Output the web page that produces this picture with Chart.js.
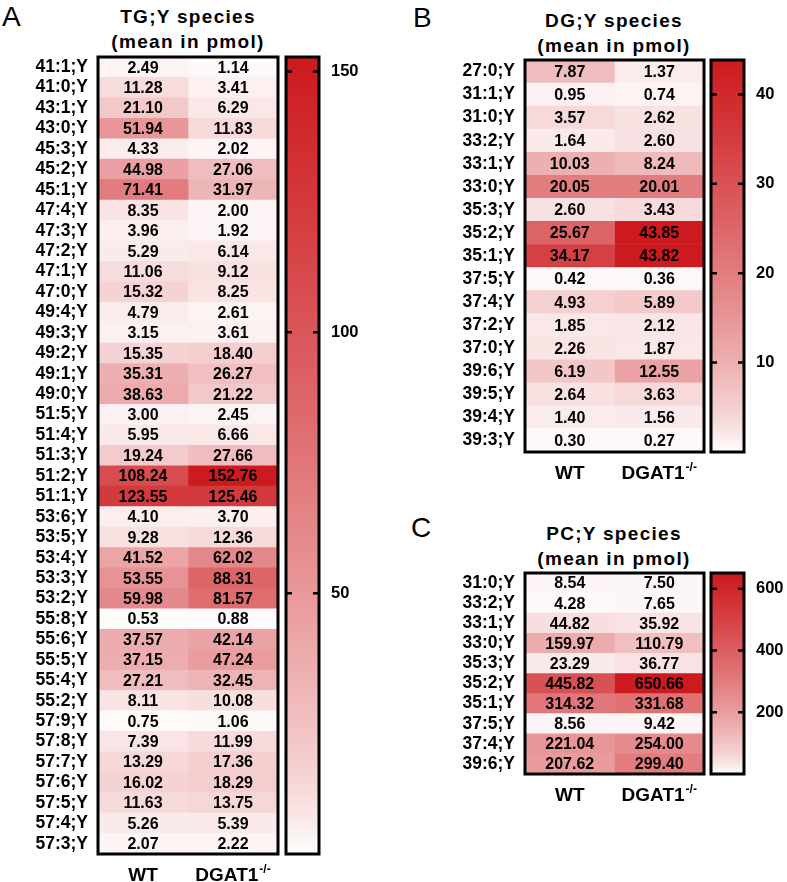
<!DOCTYPE html>
<html>
<head>
<meta charset="utf-8">
<script src="https://cdn.jsdelivr.net/npm/chart.js@4.4.1/dist/chart.umd.min.js"></script>
<style>
body{margin:0;background:#fff;width:787px;height:882px;position:relative;overflow:hidden;font-family:Arial,"Liberation Sans",sans-serif}
canvas{position:absolute}
.lettre{position:absolute;font-size:28px;line-height:28px;color:#000}
.titre{position:absolute;width:260px;text-align:center;font-weight:bold;font-size:19px;letter-spacing:1.3px;line-height:25px;color:#000}
</style>
</head>
<body>
<div class="lettre" style="left:2px;top:3px">A</div>
<div class="titre" style="left:58px;top:4px">TG;Y species<br>(mean in pmol)</div>
<div class="lettre" style="left:413px;top:4px">B</div>
<div class="titre" style="left:484px;top:8px">DG;Y species<br>(mean in pmol)</div>
<div class="lettre" style="left:411px;top:514px">C</div>
<div class="titre" style="left:484px;top:521px">PC;Y species<br>(mean in pmol)</div>

<canvas id="hA" width="292" height="835" style="left:0px;top:47px"></canvas>
<canvas id="cA" width="100" height="835" style="left:280px;top:47px"></canvas>
<canvas id="hB" width="318" height="432" style="left:400px;top:50px"></canvas>
<canvas id="cB" width="82" height="432" style="left:705px;top:50px"></canvas>
<canvas id="hC" width="318" height="245" style="left:400px;top:563px"></canvas>
<canvas id="cC" width="82" height="245" style="left:705px;top:563px"></canvas>

<script>
// TG;Y
const tgEspeces = ['41:1;Y','41:0;Y','43:1;Y','43:0;Y','45:3;Y','45:2;Y','45:1;Y','47:4;Y','47:3;Y','47:2;Y',
  '47:1;Y','47:0;Y','49:4;Y','49:3;Y','49:2;Y','49:1;Y','49:0;Y','51:5;Y','51:4;Y','51:3;Y','51:2;Y','51:1;Y',
  '53:6;Y','53:5;Y','53:4;Y','53:3;Y','53:2;Y','55:8;Y','55:6;Y','55:5;Y','55:4;Y','55:2;Y','57:9;Y','57:8;Y',
  '57:7;Y','57:6;Y','57:5;Y','57:4;Y','57:3;Y'];
const tgWT = [2.49,11.28,21.10,51.94,4.33,44.98,71.41,8.35,3.96,5.29,11.06,15.32,4.79,3.15,15.35,35.31,38.63,
  3.00,5.95,19.24,108.24,123.55,4.10,9.28,41.52,53.55,59.98,0.53,37.57,37.15,27.21,8.11,0.75,7.39,13.29,16.02,
  11.63,5.26,2.07];
const tgKO = [1.14,3.41,6.29,11.83,2.02,27.06,31.97,2.00,1.92,6.14,9.12,8.25,2.61,3.61,18.40,26.27,21.22,
  2.45,6.66,27.66,152.76,125.46,3.70,12.36,62.02,88.31,81.57,0.88,42.14,47.24,32.45,10.08,1.06,11.99,17.36,
  18.29,13.75,5.39,2.22];
const tgTicks = [50, 100, 150];

// DG;Y
const dgEspeces = ['27:0;Y','31:1;Y','31:0;Y','33:2;Y','33:1;Y','33:0;Y','35:3;Y','35:2;Y','35:1;Y','37:5;Y',
  '37:4;Y','37:2;Y','37:0;Y','39:6;Y','39:5;Y','39:4;Y','39:3;Y'];
const dgWT = [7.87,0.95,3.57,1.64,10.03,20.05,2.60,25.67,34.17,0.42,4.93,1.85,2.26,6.19,2.64,1.40,0.30];
const dgKO = [1.37,0.74,2.62,2.60,8.24,20.01,3.43,43.85,43.82,0.36,5.89,2.12,1.87,12.55,3.63,1.56,0.27];
const dgTicks = [10, 20, 30, 40];

// PC;Y
const pcEspeces = ['31:0;Y','33:2;Y','33:1;Y','33:0;Y','35:3;Y','35:2;Y','35:1;Y','37:5;Y','37:4;Y','39:6;Y'];
const pcWT = [8.54,4.28,44.82,159.97,23.29,445.82,314.32,8.56,221.04,207.62];
const pcKO = [7.50,7.65,35.92,110.79,36.77,650.66,331.68,9.42,254.00,299.40];
const pcTicks = [200, 400, 600];

const groupes = ['WT', 'DGAT1'];
const exposants = ['', '-/-'];

const police = 'Arial, "Liberation Sans", Helvetica, sans-serif';
Chart.defaults.font.family = police;
Chart.defaults.color = '#000';

const rouge = [204, 26, 30];
function couleur(v, max) {
  const t = Math.pow(Math.max(0, Math.min(1, v / max)), 0.72);
  const c = [255, 255, 255].map((b, i) => Math.round(b + (rouge[i] - b) * t));
  return 'rgb(' + c.join(',') + ')';
}

// valeurs dans les cases, cadre noir, noms des groupes
const cadreCarte = {
  id: 'cadreCarte',
  afterDatasetsDraw(chart) {
    const ctx = chart.ctx, ca = chart.chartArea;
    ctx.save();
    ctx.font = 'bold 16px ' + police;
    ctx.textAlign = 'center';
    ctx.textBaseline = 'middle';
    ctx.fillStyle = '#000';
    chart.data.datasets.forEach((ds, i) => {
      chart.getDatasetMeta(i).data.forEach((el, j) => {
        ctx.fillText(ds.valeurs[j].toFixed(2), (el.x + el.base) / 2, el.y + 1);
      });
    });
    ctx.lineWidth = 3;
    ctx.strokeStyle = '#000';
    ctx.strokeRect(ca.left, ca.top, ca.width, ca.height);
    ctx.restore();
  },
  afterDraw(chart) {
    const ctx = chart.ctx, ca = chart.chartArea, sx = chart.scales.x;
    ctx.save();
    ctx.fillStyle = '#000';
    ctx.textBaseline = 'alphabetic';
    ctx.textAlign = 'left';
    groupes.forEach((g, k) => {
      const cx = sx.getPixelForValue(k + 0.5);
      ctx.font = 'bold 19px ' + police;
      const w1 = ctx.measureText(g).width;
      ctx.font = 'bold 12px ' + police;
      const w2 = exposants[k] ? ctx.measureText(exposants[k]).width + 1 : 0;
      const x0 = cx - (w1 + w2) / 2;
      const yb = ca.bottom + 27;
      ctx.font = 'bold 19px ' + police;
      ctx.fillText(g, x0, yb);
      if (exposants[k]) {
        ctx.font = 'bold 12px ' + police;
        ctx.fillText(exposants[k], x0 + w1 + 1, yb - 8);
      }
    });
    ctx.restore();
  }
};

// cadre et petites graduations de la barre de couleur
const cadreBarre = {
  id: 'cadreBarre',
  afterDatasetsDraw(chart) {
    const ctx = chart.ctx, ca = chart.chartArea, sy = chart.scales.y;
    ctx.save();
    ctx.strokeStyle = '#000';
    ctx.lineWidth = 2.5;
    sy.ticks.forEach(t => {
      const y = sy.getPixelForValue(t.value);
      ctx.beginPath();
      ctx.moveTo(ca.left, y); ctx.lineTo(ca.left + 6, y);
      ctx.moveTo(ca.right - 6, y); ctx.lineTo(ca.right, y);
      ctx.stroke();
    });
    ctx.lineWidth = 3;
    ctx.strokeRect(ca.left, ca.top, ca.width, ca.height);
    ctx.restore();
  }
};

function carte(id, especes, wt, ko, largeurLabels, basPadding) {
  const max = Math.max(...wt, ...ko);
  new Chart(document.getElementById(id), {
    type: 'bar',
    data: {
      labels: especes,
      datasets: [wt, ko].map((vals, k) => ({
        label: groupes[k],
        valeurs: vals,
        data: vals.map(() => [k, k + 1]),
        backgroundColor: vals.map(v => couleur(v, max)),
        borderWidth: 0,
        barPercentage: 1,
        categoryPercentage: 1,
        grouped: false
      }))
    },
    options: {
      indexAxis: 'y',
      responsive: false,
      animation: false,
      layout: { padding: { top: 10, right: 14, bottom: basPadding, left: 0 } },
      plugins: { legend: { display: false }, tooltip: { enabled: false } },
      scales: {
        x: { type: 'linear', min: 0, max: 2, display: false },
        y: {
          grid: { display: false, drawTicks: false },
          border: { display: false },
          ticks: { font: { size: 17.5, weight: 'bold' }, padding: 10, autoSkip: false },
          afterFit: s => { s.width = largeurLabels; s.paddingTop = 0; s.paddingBottom = 0; }
        }
      }
    },
    plugins: [cadreCarte]
  });
}

function barre(id, wt, ko, graduations, largeurAxe, basPadding) {
  const max = Math.max(...wt, ...ko);
  new Chart(document.getElementById(id), {
    type: 'bar',
    data: {
      labels: [''],
      datasets: [{
        data: [[0, max]],
        backgroundColor: c => {
          const ca = c.chart.chartArea;
          if (!ca) return 'rgba(0,0,0,0)';
          const g = c.chart.ctx.createLinearGradient(0, ca.bottom, 0, ca.top);
          for (let k = 0; k <= 20; k++) g.addColorStop(k / 20, couleur(k / 20 * max, max));
          return g;
        },
        borderWidth: 0,
        barPercentage: 1,
        categoryPercentage: 1
      }]
    },
    options: {
      responsive: false,
      animation: false,
      layout: { padding: { top: 10, right: 0, bottom: basPadding, left: 6 } },
      plugins: { legend: { display: false }, tooltip: { enabled: false } },
      scales: {
        x: { display: false },
        y: {
          position: 'right',
          min: 0,
          max: max,
          grid: { display: false, drawTicks: false },
          border: { display: false },
          ticks: { font: { size: 16.5, weight: 'bold' }, padding: 12 },
          afterBuildTicks: s => { s.ticks = graduations.map(v => ({ value: v })); },
          afterFit: s => { s.width = largeurAxe; s.paddingTop = 0; s.paddingBottom = 0; }
        }
      }
    },
    plugins: [cadreBarre]
  });
}

carte('hA', tgEspeces, tgWT, tgKO, 98, 28);
barre('cA', tgWT, tgKO, tgTicks, 61, 28);
carte('hB', dgEspeces, dgWT, dgKO, 125, 30);
barre('cB', dgWT, dgKO, dgTicks, 43, 30);
carte('hC', pcEspeces, pcWT, pcKO, 125, 34);
barre('cC', pcWT, pcKO, pcTicks, 43, 34);
</script>
</body>
</html>
